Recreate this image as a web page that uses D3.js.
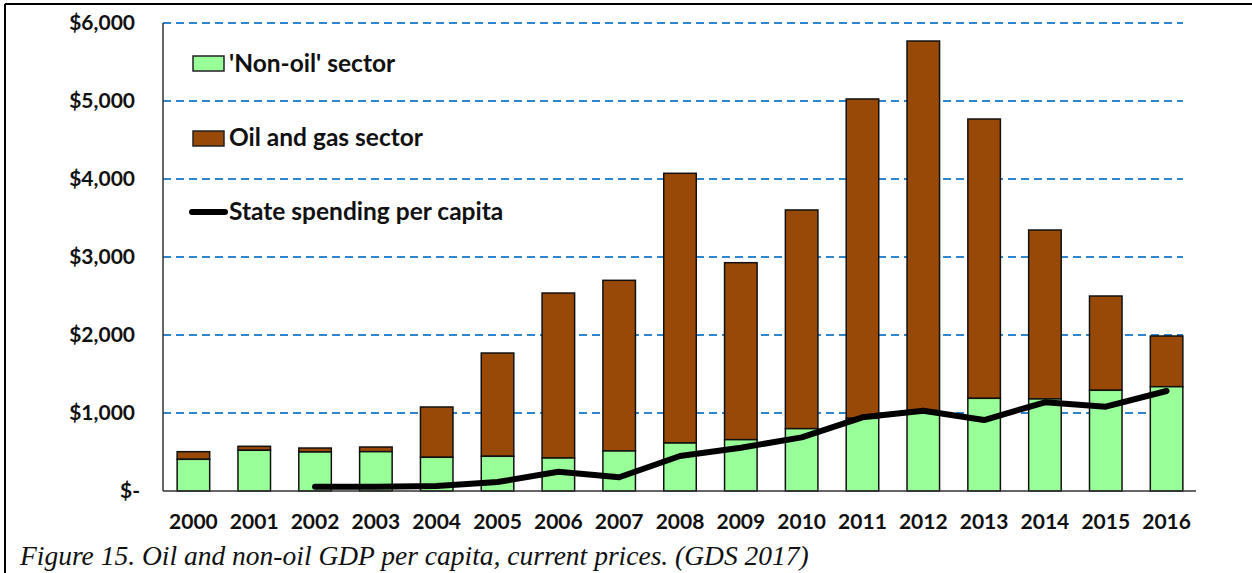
<!DOCTYPE html>
<html>
<head>
<meta charset="utf-8">
<script src="https://cdn.jsdelivr.net/npm/d3@7"></script>
<style>
  body { margin: 0; background: #fff; }
  svg text { font-family: Lato, "Open Sans", sans-serif; }
</style>
</head>
<body>
<div id="visualization"></div>
<script>
var years = ['2000', '2001', '2002', '2003', '2004', '2005', '2006', '2007', '2008',
             '2009', '2010', '2011', '2012', '2013', '2014', '2015', '2016'];
var nonOil = [406, 522, 500, 504, 432, 445, 423, 513, 615, 658, 799, 932, 1030, 1188, 1180, 1291, 1337];
var totalGdp = [504, 573, 551, 564, 1077, 1769, 2538, 2701, 4073, 2927, 3603, 5026, 5769, 4769, 3346, 2500, 1987];
var spendYears = ['2002', '2003', '2004', '2005', '2006', '2007', '2008', '2009',
                  '2010', '2011', '2012', '2013', '2014', '2015', '2016'];
var spending = [55, 55, 64, 115, 247, 176, 449, 555, 688, 945, 1030, 910, 1137, 1081, 1282];
var yTicks = [0, 1000, 2000, 3000, 4000, 5000, 6000];

document.addEventListener('DOMContentLoaded', function() {
  var width = 1252;
  var height = 573;

  var svg = d3.select('#visualization').append('svg')
              .attr('width', width)
              .attr('height', height);

  // frame
  svg.append('line').attr('x1', 5).attr('x2', width).attr('y1', 4).attr('y2', 4)
     .attr('stroke', '#000').attr('stroke-width', 2);
  svg.append('line').attr('x1', 5).attr('x2', 5).attr('y1', 4).attr('y2', height)
     .attr('stroke', '#000').attr('stroke-width', 2);

  var x = d3.scaleBand().domain(years).range([163, 1197]).paddingInner(0.465).paddingOuter(0.2325);
  var y = d3.scaleLinear().domain([0, 6000]).range([491, 23]);

  var green = '#99ff99';
  var brown = '#984807';

  // gridlines
  svg.append('g').selectAll('line')
     .data(yTicks.filter(function(d) { return d > 0; }))
     .enter().append('line')
     .attr('x1', 163).attr('x2', 1183)
     .attr('y1', function(d) { return y(d); })
     .attr('y2', function(d) { return y(d); })
     .attr('stroke', '#2f86cf').attr('stroke-width', 2)
     .attr('stroke-dasharray', '8,5');

  // bars
  var bars = svg.append('g');
  years.forEach(function(yr, i) {
    bars.append('rect')
        .attr('x', x(yr)).attr('width', x.bandwidth())
        .attr('y', y(totalGdp[i])).attr('height', y(nonOil[i]) - y(totalGdp[i]))
        .attr('fill', brown).attr('stroke', '#111').attr('stroke-width', 1.5);
    bars.append('rect')
        .attr('x', x(yr)).attr('width', x.bandwidth())
        .attr('y', y(nonOil[i])).attr('height', y(0) - y(nonOil[i]))
        .attr('fill', green).attr('stroke', '#111').attr('stroke-width', 1.5);
  });

  // axes lines
  svg.append('line').attr('x1', 163).attr('x2', 163).attr('y1', 23).attr('y2', 491)
     .attr('stroke', '#333').attr('stroke-width', 1.5);
  svg.append('line').attr('x1', 163).attr('x2', 1196).attr('y1', 491).attr('y2', 491)
     .attr('stroke', '#333').attr('stroke-width', 1.5);

  // y labels
  var fmt = d3.format(',');
  svg.append('g').selectAll('text')
     .data(yTicks).enter().append('text')
     .attr('x', function(d) { return d === 0 ? 140 : 135; })
     .attr('y', function(d) { return y(d); })
     .attr('dy', '0.35em')
     .attr('text-anchor', 'end')
     .attr('font-size', 21).attr('font-weight', 'bold').attr('fill', '#111')
     .text(function(d) { return d === 0 ? '$-' : '$' + fmt(d); });

  // x labels
  svg.append('g').selectAll('text')
     .data(years).enter().append('text')
     .attr('x', function(d) { return x(d) + x.bandwidth() / 2; })
     .attr('y', 529)
     .attr('text-anchor', 'middle')
     .attr('font-size', 21).attr('font-weight', 'bold').attr('fill', '#111')
     .text(function(d) { return d; });

  // spending line
  var line = d3.line()
    .x(function(d, i) { return x(spendYears[i]) + x.bandwidth() / 2; })
    .y(function(d) { return y(d); });
  svg.append('path').datum(spending)
     .attr('d', line)
     .attr('fill', 'none').attr('stroke', '#000').attr('stroke-width', 6)
     .attr('stroke-linejoin', 'round').attr('stroke-linecap', 'round');

  // legend
  var legend = svg.append('g').attr('font-size', 24.5).attr('font-weight', 'bold').attr('fill', '#111');
  legend.append('rect').attr('x', 193).attr('y', 56).attr('width', 31).attr('height', 15)
        .attr('fill', green).attr('stroke', '#222').attr('stroke-width', 1.5);
  legend.append('text').attr('x', 229).attr('y', 72).text("'Non-oil' sector");
  legend.append('rect').attr('x', 193).attr('y', 131).attr('width', 31).attr('height', 15)
        .attr('fill', brown).attr('stroke', '#222').attr('stroke-width', 1.5);
  legend.append('text').attr('x', 229).attr('y', 146).text('Oil and gas sector');
  legend.append('line').attr('x1', 192).attr('x2', 225).attr('y1', 212).attr('y2', 212)
        .attr('stroke', '#000').attr('stroke-width', 6).attr('stroke-linecap', 'round');
  legend.append('text').attr('x', 229).attr('y', 220).text('State spending per capita');

  // caption
  svg.append('text').attr('x', 20).attr('y', 565)
     .style('font-family', '"Liberation Serif", serif')
     .attr('font-style', 'italic').attr('font-size', 27.5).attr('fill', '#111')
     .text('Figure 15. Oil and non-oil GDP per capita, current prices. (GDS 2017)');
});
</script>
</body>
</html>
